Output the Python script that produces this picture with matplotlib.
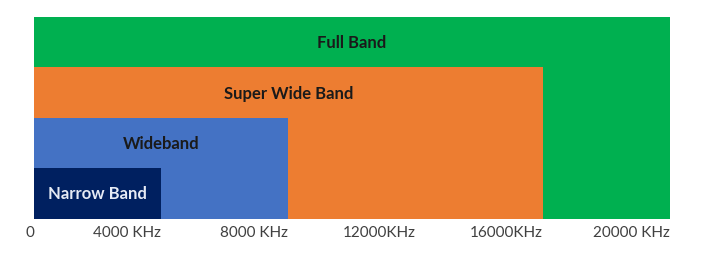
import matplotlib.pyplot as plt

# band name, upper frequency (KHz), colour
bands = ['Full Band', 'Super Wide Band', 'Wideband', 'Narrow Band']
upper_khz = [20000, 16000, 8000, 4000]
levels = [4, 3, 2, 1]
colors = ['#00B050', '#ED7D31', '#4472C4', '#002060']
text_colors = ['#1a1a1a', '#1a1a1a', '#1a1a1a', '#e6ebf5']

tick_vals = [0, 4000, 8000, 12000, 16000, 20000]
tick_labels = ['0', '4000 KHz', '8000 KHz', '12000KHz', '16000KHz', '20000 KHz']

plt.rcParams['font.family'] = ['Lato', 'DejaVu Sans']

fig = plt.figure(figsize=(7.05, 2.6), dpi=100)
ax = fig.add_axes([34 / 705, 1 - 218.7 / 260, 636 / 705, 201.7 / 260])

for name, w, h, c, tc in zip(bands, upper_khz, levels, colors, text_colors):
    ax.barh(0, w, height=h, left=0, align='edge', color=c, linewidth=0)
    ax.text(w / 2, h - 0.52, name, ha='center', va='center',
            fontsize=12, fontweight='bold', color=tc)

ax.set_xlim(0, 20000)
ax.set_ylim(0, 4)
ax.set_yticks([])
ax.set_xticks(tick_vals)
ax.set_xticklabels(tick_labels, ha='right', fontsize=11, color='#404040')
ax.tick_params(axis='x', length=0, pad=5)
for s in ax.spines.values():
    s.set_visible(False)

fig.savefig('out.png', dpi=100)
